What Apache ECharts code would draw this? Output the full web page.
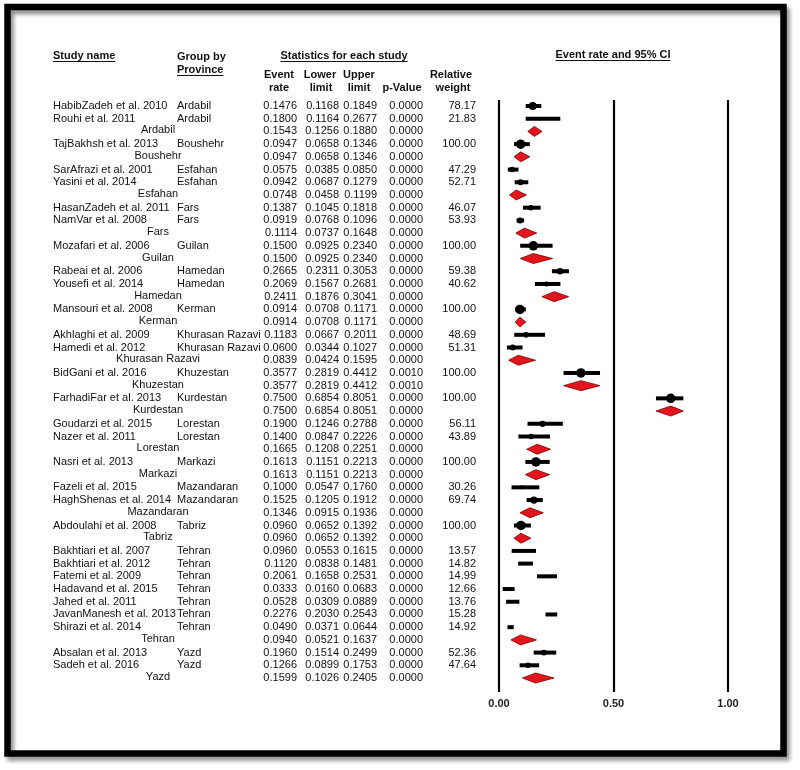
<!DOCTYPE html>
<html><head><meta charset="utf-8">
<script src="https://cdn.jsdelivr.net/npm/echarts@6/dist/echarts.min.js"></script>
<style>html,body{margin:0;padding:0;background:#fff}#c{width:800px;height:770px}</style>
</head><body><div id="c"></div>
<script>
// ---- data ----
const rowLabels = [
 'HabibZadeh et al. 2010','Rouhi et al. 2011','Ardabil',
 'TajBakhsh et al. 2013','Boushehr',
 'SarAfrazi et al. 2001','Yasini et al. 2014','Esfahan',
 'HasanZadeh et al. 2011','NamVar et al. 2008','Fars',
 'Mozafari et al. 2006','Guilan',
 'Rabeai et al. 2006','Yousefi et al. 2014','Hamedan',
 'Mansouri et al. 2008','Kerman',
 'Akhlaghi et al. 2009','Hamedi et al. 2012','Khurasan Razavi',
 'BidGani et al. 2016','Khuzestan',
 'FarhadiFar et al. 2013','Kurdestan',
 'Goudarzi et al. 2015','Nazer et al. 2011','Lorestan',
 'Nasri et al. 2013','Markazi',
 'Fazeli et al. 2015','HaghShenas et al. 2014','Mazandaran',
 'Abdoulahi et al. 2008','Tabriz',
 'Bakhtiari et al. 2007','Bakhtiari et al. 2012','Fatemi et al. 2009','Hadavand et al. 2015','Jahed et al. 2011','JavanManesh et al. 2013','Shirazi et al. 2014','Tehran',
 'Absalan et al. 2013','Sadeh et al. 2016','Yazd'
];
const groupNames = [
 'Ardabil','Ardabil','',
 'Boushehr','',
 'Esfahan','Esfahan','',
 'Fars','Fars','',
 'Guilan','',
 'Hamedan','Hamedan','',
 'Kerman','',
 'Khurasan Razavi','Khurasan Razavi','',
 'Khuzestan','',
 'Kurdestan','',
 'Lorestan','Lorestan','',
 'Markazi','',
 'Mazandaran','Mazandaran','',
 'Tabriz','',
 'Tehran','Tehran','Tehran','Tehran','Tehran','Tehran','Tehran','',
 'Yazd','Yazd',''
];
const eventRate = [
 0.1476,0.1800,0.1543, 0.0947,0.0947, 0.0575,0.0942,0.0748, 0.1387,0.0919,0.1114,
 0.1500,0.1500, 0.2665,0.2069,0.2411, 0.0914,0.0914, 0.1183,0.0600,0.0839,
 0.3577,0.3577, 0.7500,0.7500, 0.1900,0.1400,0.1665, 0.1613,0.1613,
 0.1000,0.1525,0.1346, 0.0960,0.0960,
 0.0960,0.1120,0.2061,0.0333,0.0528,0.2276,0.0490,0.0940, 0.1960,0.1266,0.1599
];
const lowerLimit = [
 0.1168,0.1164,0.1256, 0.0658,0.0658, 0.0385,0.0687,0.0458, 0.1045,0.0768,0.0737,
 0.0925,0.0925, 0.2311,0.1567,0.1876, 0.0708,0.0708, 0.0667,0.0344,0.0424,
 0.2819,0.2819, 0.6854,0.6854, 0.1246,0.0847,0.1208, 0.1151,0.1151,
 0.0547,0.1205,0.0915, 0.0652,0.0652,
 0.0553,0.0838,0.1658,0.0160,0.0309,0.2030,0.0371,0.0521, 0.1514,0.0899,0.1026
];
const upperLimit = [
 0.1849,0.2677,0.1880, 0.1346,0.1346, 0.0850,0.1279,0.1199, 0.1818,0.1096,0.1648,
 0.2340,0.2340, 0.3053,0.2681,0.3041, 0.1171,0.1171, 0.2011,0.1027,0.1595,
 0.4412,0.4412, 0.8051,0.8051, 0.2788,0.2226,0.2251, 0.2213,0.2213,
 0.1760,0.1912,0.1936, 0.1392,0.1392,
 0.1615,0.1481,0.2531,0.0683,0.0889,0.2543,0.0644,0.1637, 0.2499,0.1753,0.2405
];
const pValue = [
 0.0000,0.0000,0.0000, 0.0000,0.0000, 0.0000,0.0000,0.0000, 0.0000,0.0000,0.0000,
 0.0000,0.0000, 0.0000,0.0000,0.0000, 0.0000,0.0000, 0.0000,0.0000,0.0000,
 0.0010,0.0010, 0.0000,0.0000, 0.0000,0.0000,0.0000, 0.0000,0.0000,
 0.0000,0.0000,0.0000, 0.0000,0.0000,
 0.0000,0.0000,0.0000,0.0000,0.0000,0.0000,0.0000,0.0000, 0.0000,0.0000,0.0000
];
const relWeight = [
 78.17,21.83,null, 100.00,null, 47.29,52.71,null, 46.07,53.93,null,
 100.00,null, 59.38,40.62,null, 100.00,null, 48.69,51.31,null,
 100.00,null, 100.00,null, 56.11,43.89,null, 100.00,null,
 30.26,69.74,null, 100.00,null,
 13.57,14.82,14.99,12.66,13.76,15.28,14.92,null, 52.36,47.64,null
];
const xTickValues = [0, 0.5, 1];
const xTickLabels = ['0.00', '0.50', '1.00'];

// ---- rendering ----
const FF = '"Liberation Sans", Arial, sans-serif';
const F = '11px ' + FF, FB = 'bold 11px ' + FF;
const TXT = '#111';
const mctx = document.createElement('canvas').getContext('2d');
function tw(t, f) { mctx.font = f; return mctx.measureText(t).width; }

const isSummary = groupNames.map(g => g === '');
const studyIdx = [], sumIdx = [];
rowLabels.forEach((_, i) => (isSummary[i] ? sumIdx : studyIdx).push(i));

function txt(x, y, text, font, align) {
  return { type: 'text', x: x, y: y, silent: true,
    style: { text: text, font: font, fill: TXT, align: align, textAlign: align,
             verticalAlign: 'middle', textVerticalAlign: 'middle' } };
}

const graphics = [];
function header(x, y, text, align, underline) {
  graphics.push(txt(x, y, text, FB, align));
  if (underline) {
    const w = tw(text, FB);
    const x0 = align === 'center' ? x - w / 2 : x;
    graphics.push({ type: 'line', silent: true, shape: { x1: x0, y1: y + 5.5, x2: x0 + w, y2: y + 5.5 },
      style: { stroke: TXT, lineWidth: 1.2 } });
  }
}
header(53, 56, 'Study name', 'left', true);
header(177, 57, 'Group by', 'left', false);
header(177, 70, 'Province', 'left', true);
header(344, 56, 'Statistics for each study', 'center', true);
header(279, 75, 'Event', 'center'); header(279, 88, 'rate', 'center');
header(320, 75, 'Lower', 'center'); header(321, 88, 'limit', 'center');
header(359, 75, 'Upper', 'center'); header(359, 88, 'limit', 'center');
header(402, 88, 'p-Value', 'center');
header(451, 75, 'Relative', 'center'); header(453, 88, 'weight', 'center');
header(613, 55, 'Event rate and 95% CI', 'center', true);
graphics.push({ type: 'rect', silent: true, z: 10,
  shape: { x: 7.5, y: 7, width: 776, height: 746.5 },
  style: { fill: 'none', stroke: '#000', lineWidth: 6.5,
    shadowBlur: 4, shadowColor: 'rgba(0,0,0,0.45)', shadowOffsetX: 3, shadowOffsetY: 4 } });

const chart = echarts.init(document.getElementById('c'));
chart.setOption({
  animation: false,
  backgroundColor: '#fff',
  grid: { left: 499, width: 229, top: 100, height: 592 },
  xAxis: { type: 'value', min: 0, max: 1, interval: 0.5,
    axisLine: { show: false }, axisTick: { show: false },
    splitLine: { show: true, lineStyle: { color: '#000', width: 2.2 } },
    axisLabel: { margin: 6, fontWeight: 'bold', fontSize: 11, fontFamily: FF, color: '#222',
      formatter: v => xTickLabels[xTickValues.indexOf(v)] } },
  yAxis: { type: 'value', inverse: true, min: -0.472, max: 46.1, show: false },
  graphic: graphics,
  series: [
    {
      type: 'custom', clip: false, silent: true,
      data: rowLabels.map((_, i) => [0, i]),
      renderItem: function (params, api) {
        const i = api.value(1);
        const y = api.coord([0, i])[1];
        const kids = [];
        if (isSummary[i]) kids.push(txt(158, y - 1, rowLabels[i], F, 'center'));
        else { kids.push(txt(53, y, rowLabels[i], F, 'left')); kids.push(txt(177, y, groupNames[i], F, 'left')); }
        kids.push(txt(297, y, eventRate[i].toFixed(4), F, 'right'));
        kids.push(txt(339, y, lowerLimit[i].toFixed(4), F, 'right'));
        kids.push(txt(377, y, upperLimit[i].toFixed(4), F, 'right'));
        kids.push(txt(423, y, pValue[i].toFixed(4), F, 'right'));
        if (relWeight[i] != null) kids.push(txt(476, y, relWeight[i].toFixed(2), F, 'right'));
        return { type: 'group', children: kids };
      }
    },
    {
      type: 'custom', clip: false,
      data: studyIdx.map(i => [eventRate[i], i, lowerLimit[i], upperLimit[i], relWeight[i]]),
      renderItem: function (params, api) {
        const i = api.value(1);
        const p = api.coord([api.value(0), i]);
        const a = api.coord([api.value(2), i]);
        const b = api.coord([api.value(3), i]);
        const r = (2 + api.value(4) * 0.075) / 2;
        return { type: 'group', children: [
          { type: 'line', shape: { x1: a[0], y1: a[1], x2: b[0], y2: b[1] }, style: { stroke: '#000', lineWidth: 4 } },
          { type: 'circle', shape: { cx: p[0], cy: p[1], r: r }, style: { fill: '#000' } }
        ] };
      }
    },
    {
      type: 'custom', clip: false,
      data: sumIdx.map(i => [eventRate[i], i, lowerLimit[i], upperLimit[i]]),
      renderItem: function (params, api) {
        const i = api.value(1);
        const p = api.coord([api.value(0), i]);
        const a = api.coord([api.value(2), i]);
        const b = api.coord([api.value(3), i]);
        const h = 5;
        return { type: 'polygon',
          shape: { points: [[a[0], a[1]], [p[0], p[1] - h], [b[0], b[1]], [p[0], p[1] + h]] },
          style: { fill: '#e3141b', stroke: '#7a0000', lineWidth: 0.8 } };
      }
    }
  ]
});
</script>
</body></html>
